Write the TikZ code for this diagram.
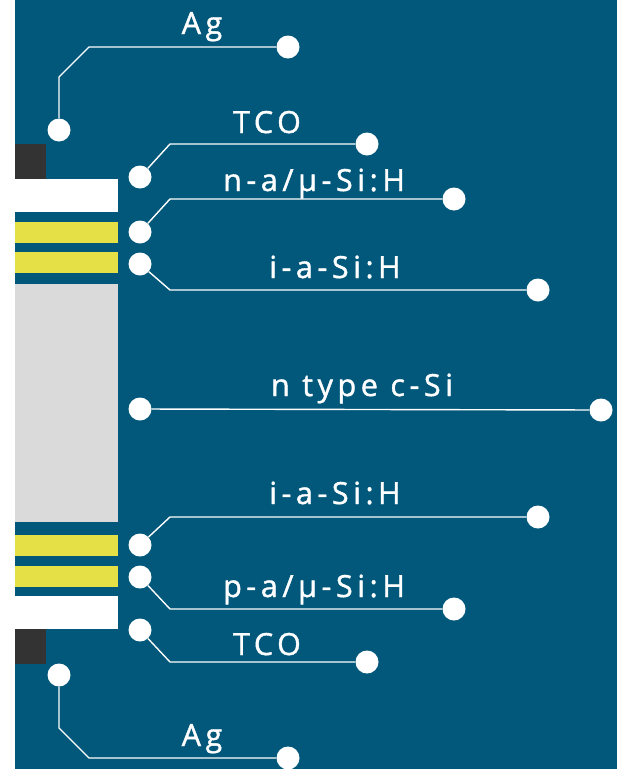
\documentclass[tikz,border=0pt]{standalone}
\usepackage{fontspec}
\setmainfont{Open Sans}[LetterSpace=15,FakeBold=1.3]
\definecolor{bgteal}{HTML}{02587A}
\definecolor{layeryellow}{HTML}{E5E045}
\definecolor{layergray}{HTML}{DADADA}
\definecolor{layerdark}{HTML}{333333}
\begin{document}
\begin{tikzpicture}[x=1pt,y=-1pt,
  dot/.style={circle,fill=white,draw=none,minimum size=23pt,inner sep=0pt},
  wire/.style={draw=white,line width=1.4pt},
  lbl/.style={text=white,font=\fontsize{30.5}{34}\selectfont,anchor=base,inner sep=0pt}]
\useasboundingbox (0,0) rectangle (617,769);
\fill[white] (0,0) rectangle (617,769);
\fill[bgteal] (15,0) rectangle (617,769);
% layers
\fill[layerdark] (15,144) rectangle (46,179);
\fill[white] (0,179) rectangle (118,212);
\fill[layeryellow] (15,222) rectangle (118,243);
\fill[layeryellow] (15,252) rectangle (118,273);
\fill[layergray] (15,284) rectangle (118,522);
\fill[layeryellow] (15,535) rectangle (118,556);
\fill[layeryellow] (15,566) rectangle (118,587);
\fill[white] (0,596) rectangle (118,629);
\fill[layerdark] (15,629) rectangle (46,664);
% dots
\node[dot] (agtL) at (59,130) {};
\node[dot] (agtR) at (288,47) {};
\node[dot] (tcotL) at (140,177) {};
\node[dot] (tcotR) at (367,144) {};
\node[dot] (nL) at (140,232) {};
\node[dot] (nR) at (454,199) {};
\node[dot] (itL) at (140,264) {};
\node[dot] (itR) at (538,290) {};
\node[dot] (cL) at (140,409) {};
\node[dot] (cR) at (601,410) {};
\node[dot] (ibL) at (140,545) {};
\node[dot] (ibR) at (538,517) {};
\node[dot] (pL) at (140,577) {};
\node[dot] (pR) at (454,609) {};
\node[dot] (tcobL) at (140,630) {};
\node[dot] (tcobR) at (367,662) {};
\node[dot] (agbL) at (59,675) {};
\node[dot] (agbR) at (288,758) {};
% wires
\draw[wire] (agtL) -- (59,77) -- (89,47) -- (agtR);
\draw[wire] (tcotL) -- (170,144) -- (tcotR);
\draw[wire] (nL) -- (170,199) -- (nR);
\draw[wire] (itL) -- (170,290) -- (itR);
\draw[wire] (cL) -- (cR);
\draw[wire] (ibL) -- (170,517) -- (ibR);
\draw[wire] (pL) -- (170,609) -- (pR);
\draw[wire] (tcobL) -- (170,662) -- (tcobR);
\draw[wire] (agbL) -- (59,728) -- (89,758) -- (agbR);
% labels
\node[lbl] (tAgt) at (202,34) {Ag};
\node[lbl] (tTCOt) at (267,133) {TCO};
\node[lbl] (tn) at (314,191) {n-a/μ-Si:H};
\node[lbl] (tit) at (335,278) {i-a-Si:H};
\node[lbl] (tc) at (362,396) {n type c-Si};
\node[lbl] (tib) at (335,504) {i-a-Si:H};
\node[lbl] (tp) at (314,597) {p-a/μ-Si:H};
\node[lbl] (tTCOb) at (267,655) {TCO};
\node[lbl] (tAgb) at (202,746) {Ag};
\end{tikzpicture}
\end{document}
